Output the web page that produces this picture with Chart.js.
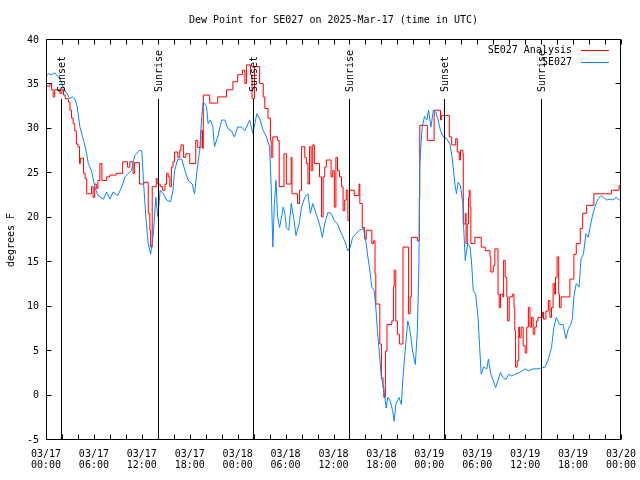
<!DOCTYPE html>
<html>
<head>
<meta charset="utf-8">
<script src="https://cdn.jsdelivr.net/npm/chart.js@4"></script>
<style>
  body { margin: 0; background: #fff; }
  #wrap { width: 640px; height: 480px; }
</style>
</head>
<body>
<div id="wrap"><canvas id="dewPoint"></canvas></div>
<script>
// hours since 03/17 00:00 UTC
const blueHours = [0,0.3,0.7,1.1,1.5,1.8,2.25,2.6,3.0,3.3,
    3.6,3.9,4.25,4.7,5.1,5.3,5.7,6.1,6.5,7.2,
    7.6,8.0,8.4,9.0,9.5,9.9,10.3,10.7,11.1,11.75,
    12.0,12.2,12.5,12.8,13.1,13.4,13.75,14.0,14.3,14.7,
    15.1,15.6,15.9,16.1,16.5,17.0,17.4,17.8,18.3,18.6,
    18.9,19.25,19.5,19.7,20.1,20.3,20.6,20.9,21.1,21.5,
    22.0,22.4,22.8,23.2,23.6,24.0,24.5,24.9,25.5,25.9,
    26.4,26.75,27.2,27.6,28.0,28.2,28.4,28.6,28.8,29.0,
    29.25,29.7,29.9,30.1,30.4,30.7,31.0,31.3,31.7,32.0,
    32.4,32.8,33.1,33.4,33.8,34.25,34.6,34.9,35.3,35.7,
    36.1,36.5,37.0,37.4,37.8,38.1,38.4,38.8,39.25,39.75,
    40.1,40.3,40.5,40.8,41.1,41.3,41.5,41.75,42.0,42.2,
    42.6,42.8,43.1,43.4,43.6,43.8,44.2,44.5,44.7,44.9,
    45.3,45.5,45.7,45.9,46.25,46.5,46.7,46.8,47.1,47.4,
    47.7,47.9,48.2,48.5,48.8,49.1,49.4,49.75,50.2,50.6,
    50.9,51.2,51.4,51.6,51.9,52.2,52.3,52.5,52.8,53.1,
    53.3,53.5,53.8,54.1,54.3,54.5,54.8,55.2,55.4,55.7,
    56.0,56.3,56.6,56.9,57.25,57.6,57.9,58.3,58.7,59.3,
    60.0,60.4,61.0,61.6,62.0,62.5,62.9,63.3,63.6,63.9,
    64.3,64.75,65.1,65.4,65.7,65.9,66.1,66.4,66.75,67.0,
    67.3,67.6,67.9,68.2,68.5,68.8,69.1,69.5,69.8,70.2,
    70.6,71.0,71.4,71.8,72.0]
const blueValues = [35.9,36.2,36.1,36.3,35.9,35.5,34.5,34.0,33.4,33.6,
    33.4,32.5,30.2,28.7,27.2,26.1,25.3,23.5,22.5,22.1,
    22.9,22.1,22.9,22.5,23.5,24.6,25.0,25.3,27.0,27.6,
    27.5,24.2,20.1,17.1,15.9,17.8,22.3,20.1,23.1,22.7,
    22.0,21.8,23.1,25.3,26.6,26.6,25.3,24.2,23.8,22.7,
    25.3,27.6,31.4,33.0,32.5,30.6,31.0,30.2,28.0,29.1,
    31.0,31.0,30.0,29.8,29.1,30.2,30.2,29.8,31.0,29.5,
    31.7,31.2,29.8,29.1,28.0,23.5,16.7,21.6,24.2,20.1,
    18.9,21.2,20.5,18.9,18.6,21.6,20.1,18.0,19.3,21.2,
    22.3,22.7,20.5,21.6,20.5,19.3,17.8,19.3,20.6,20.5,
    19.7,19.3,18.2,17.4,16.3,16.7,17.8,18.2,18.6,18.8,
    17.1,15.6,14.4,12.2,11.8,9.9,7.3,4.7,2.0,1.3,
    -1.4,-0.2,-0.6,-1.7,-2.9,-1.0,-0.2,-1.0,2.0,4.3,
    8.4,7.7,6.5,5.0,3.5,7.3,14.8,26.1,30.2,31.4,
    31.0,32.1,30.2,32.1,31.9,31.0,29.8,29.1,28.9,28.2,
    26.5,23.8,22.7,24.0,23.6,21.6,18.9,15.2,17.1,16.7,
    14.8,11.8,11.4,8.8,5.4,2.4,3.2,3.0,4.1,2.4,
    1.7,0.9,1.7,2.6,2.0,1.8,2.4,2.2,2.4,2.6,
    3.0,2.8,3.0,3.0,3.1,3.2,4.1,5.4,7.7,8.8,
    8.0,8.0,6.4,7.5,8.0,8.6,11.1,12.6,12.2,15.4,
    15.9,18.2,17.8,19.3,20.5,21.4,22.1,22.5,22.3,22.0,
    22.1,22.0,22.3,22.0,22.1]

// analysis is a step series: each value holds from its hour to the next
const redHours = [0,0.5,0.7,0.9,1.1,1.75,2.0,2.2,2.4,2.8,
    3.0,3.2,3.4,3.6,3.8,4.0,4.2,4.3,4.7,4.9,
    5.1,5.7,5.9,6.1,6.3,6.5,6.75,7.0,7.6,8.0,
    8.8,9.6,10.2,10.5,10.9,11.1,11.7,12.25,12.8,13.0,
    13.1,13.3,13.8,14.0,14.3,14.6,14.9,15.1,15.3,15.5,
    15.7,15.9,16.1,16.5,16.75,16.9,17.2,17.5,18.0,18.75,
    19.0,19.4,19.6,19.7,20.5,21.5,22.6,23.4,24.0,24.6,
    24.9,25.1,25.6,25.8,26.1,26.75,27.2,27.4,27.8,28.1,
    28.2,28.4,29.0,29.2,29.8,30.1,30.7,30.8,31.5,31.75,
    32.0,32.4,32.6,32.8,33.0,33.2,33.4,33.6,34.25,34.5,
    34.7,34.9,35.1,35.7,35.9,36.1,36.3,36.5,36.75,37.0,
    37.2,37.4,37.6,37.8,38.0,38.6,39.2,39.3,39.6,39.9,
    40.1,40.8,41.0,41.2,41.3,41.8,42.0,42.2,42.3,42.5,
    42.7,43.3,43.5,43.6,43.8,44.0,44.25,44.7,45.4,45.6,
    45.75,46.5,46.75,46.8,47.75,48.6,49.4,49.5,50.5,50.8,
    51.3,51.5,51.75,51.9,52.2,52.25,52.5,52.6,52.75,52.9,
    53.0,53.1,53.2,53.7,54.5,55.0,55.6,55.7,56.0,56.2,
    56.6,56.75,56.9,57.2,57.3,57.5,57.7,57.8,58.0,58.4,
    58.6,58.7,58.8,59.0,59.2,59.3,59.5,59.75,60.0,60.2,
    60.4,60.6,60.8,61.0,61.2,61.4,61.6,62.2,62.3,62.6,
    62.9,63.1,63.3,63.5,63.7,63.8,64.0,64.2,64.3,64.5,
    65.6,66.1,66.4,66.9,67.2,67.7,68.6,70.8,71.75,72.0]
const redValues = [34.8,35.1,34.4,33.6,34.4,34.0,34.4,33.8,33.4,33.0,
    32.1,31.2,30.6,29.8,28.3,28.0,26.1,26.7,25.0,24.4,
    22.7,23.5,22.3,23.8,23.3,24.2,26.1,24.2,24.6,24.8,
    25.0,26.3,25.7,26.3,25.0,26.2,23.8,24.0,20.5,18.6,
    16.7,23.5,24.4,23.8,23.5,23.1,23.8,25.0,24.6,23.5,
    25.7,26.3,27.4,26.8,27.6,28.2,26.8,27.2,26.1,28.7,
    27.9,29.8,27.8,33.8,32.9,33.6,34.4,35.3,36.1,36.6,
    35.1,37.2,36.1,33.4,37.0,35.1,33.6,32.3,31.2,28.7,
    26.8,29.1,28.7,23.5,27.2,23.8,26.8,22.7,21.6,23.1,
    28.0,26.8,26.1,23.8,28.0,25.3,28.2,26.1,24.6,20.1,
    24.6,25.7,26.5,24.6,25.3,21.2,26.8,25.3,24.6,23.5,
    20.8,22.0,23.1,19.7,23.1,22.5,23.8,21.6,18.9,17.6,
    18.6,17.1,17.4,13.7,10.3,5.8,2.0,0.9,-0.2,5.0,
    8.0,8.4,12.2,14.1,8.4,6.9,5.8,16.7,9.2,11.1,
    17.8,17.4,22.3,30.4,28.7,32.1,31.0,31.5,29.1,28.2,
    28.9,27.4,26.5,27.6,27.2,19.3,20.5,17.1,19.3,22.3,
    23.1,21.2,17.1,17.8,16.7,16.3,15.6,13.9,14.6,16.5,
    11.4,9.9,11.4,11.1,15.2,13.3,11.1,8.4,11.1,11.4,
    9.9,7.3,3.2,3.9,7.7,6.5,7.7,5.6,4.8,7.7,
    9.9,7.7,8.8,6.9,7.7,8.4,8.8,9.4,8.6,9.5,
    10.7,8.8,9.9,12.6,11.4,13.3,15.6,11.4,9.9,11.1,
    13.1,15.9,17.1,18.8,20.5,21.4,22.7,23.1,23.6,23.6]

const sunHours = [1.92, 14.0, 25.95, 37.97, 49.87, 61.92]
const sunNames = ['Sunset', 'Sunrise', 'Sunset', 'Sunrise', 'Sunset', 'Sunrise']

const tickDates = ['03/17','03/17','03/17','03/17','03/18','03/18','03/18','03/18','03/19','03/19','03/19','03/19','03/20']
const tickTimes = ['00:00','06:00','12:00','18:00','00:00','06:00','12:00','18:00','00:00','06:00','12:00','18:00','00:00']

const RED = '#ff0000'
const BLUE = '#0a84ff'
const MONO = "'DejaVu Sans Mono', 'Liberation Mono', monospace"
Chart.defaults.font.family = MONO
Chart.defaults.font.size = 10
Chart.defaults.color = '#000'

const toPoints = (xs, ys) => xs.map((h, i) => ({x: h, y: ys[i]}))

// gnuplot-ish decorations: sun markers, frame with inward ticks, legend
const gnuDecor = {
    id: 'gnuDecor',
    afterDatasetsDraw(chart) {
        const {ctx, chartArea: a, scales: {x, y}} = chart
        ctx.save()
        ctx.strokeStyle = '#000'
        ctx.fillStyle = '#000'
        ctx.lineWidth = 1
        ctx.font = '10px ' + MONO

        sunHours.forEach((h, i) => {
            const px = Math.round(x.getPixelForValue(h)) + 0.5
            const top = a.top + 59
            ctx.beginPath()
            ctx.moveTo(px, top)
            ctx.lineTo(px, a.bottom)
            ctx.stroke()
            ctx.save()
            ctx.translate(px + 1, top - 7)
            ctx.rotate(-Math.PI / 2)
            ctx.textAlign = 'left'
            ctx.textBaseline = 'middle'
            ctx.fillText(sunNames[i], 0, 0)
            ctx.restore()
        })

        const L = a.left + 0.5, R = a.right - 0.5, T = a.top - 0.5, B = a.bottom - 0.5
        ctx.strokeRect(L, T, R - L, B - T)
        ctx.beginPath()
        for (let h = 0; h <= 72; h += 2) {
            const px = Math.round(x.getPixelForValue(h)) + 0.5
            ctx.moveTo(px, B); ctx.lineTo(px, B - 5)
            ctx.moveTo(px, T); ctx.lineTo(px, T + 5)
        }
        for (let v = -5; v <= 40; v += 5) {
            const py = Math.round(y.getPixelForValue(v)) - 0.5
            ctx.moveTo(L, py); ctx.lineTo(L + 5, py)
            ctx.moveTo(R, py); ctx.lineTo(R - 5, py)
        }
        ctx.stroke()

        const legendItems = [['SE027 Analysis', RED], ['SE027', BLUE]]
        legendItems.forEach(([name, colour], i) => {
            const ly = Math.round(a.top + 10) + 0.5 + i * 12
            ctx.textAlign = 'right'
            ctx.textBaseline = 'middle'
            ctx.fillStyle = '#000'
            ctx.fillText(name, a.right - 49, ly)
            ctx.strokeStyle = colour
            ctx.beginPath()
            ctx.moveTo(a.right - 40, ly)
            ctx.lineTo(a.right - 12, ly)
            ctx.stroke()
        })
        ctx.restore()
    }
}

const dewChart = new Chart('dewPoint', {
    type: 'line',
    data: {
        datasets: [{
            label: 'SE027 Analysis',
            data: toPoints(redHours, redValues),
            borderColor: RED,
            borderWidth: 1,
            pointRadius: 0,
            stepped: true,
            order: 1
        }, {
            label: 'SE027',
            data: toPoints(blueHours, blueValues),
            borderColor: BLUE,
            borderWidth: 1,
            pointRadius: 0,
            order: 0
        }]
    },
    options: {
        responsive: true,
        maintainAspectRatio: false,
        animation: false,
        layout: { padding: { left: 0, right: 19, top: 0, bottom: 0 } },
        plugins: {
            legend: { display: false },
            tooltip: { enabled: false },
            title: {
                display: true,
                text: 'Dew Point for SE027 on 2025-Mar-17 (time in UTC)',
                fullSize: false,
                font: { size: 10, weight: 'normal', lineHeight: 1.2 },
                padding: { top: 14, bottom: 14 }
            }
        },
        scales: {
            x: {
                type: 'linear',
                min: 0,
                max: 72,
                grid: { display: false, drawTicks: false },
                border: { display: false },
                afterFit: s => {
                    s.height = 40
                    s.paddingLeft = 0
                    s.paddingRight = 0
                },
                ticks: {
                    stepSize: 6,
                    autoSkip: false,
                    maxRotation: 0,
                    padding: 9,
                    font: { size: 10, lineHeight: 1.1 },
                    callback: v => [tickDates[v / 6], tickTimes[v / 6]]
                }
            },
            y: {
                min: -5,
                max: 40,
                grid: { display: false, drawTicks: false },
                border: { display: false },
                afterFit: s => {
                    s.width = 46
                    s.paddingTop = 0
                    s.paddingBottom = 0
                },
                ticks: { stepSize: 5, padding: 7 },
                title: {
                    display: true,
                    text: 'degrees F',
                    font: { size: 10 },
                    padding: { top: 5, bottom: 0 }
                }
            }
        }
    },
    plugins: [gnuDecor]
})
</script>
</body>
</html>
